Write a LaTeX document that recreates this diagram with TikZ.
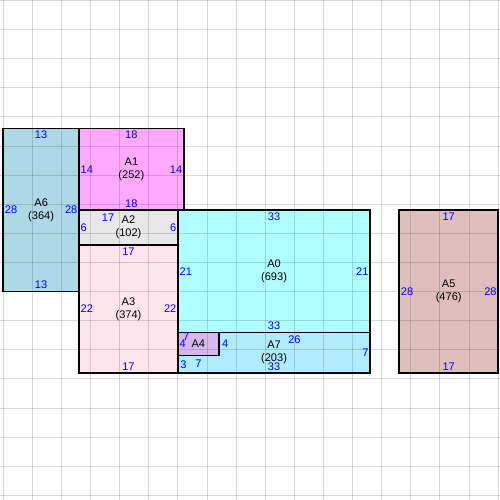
\documentclass[tikz,border=0pt]{standalone}
\usepackage{fontspec}
\setmainfont{Liberation Sans}
\usepackage{tikz}

\definecolor{colAzero}{RGB}{175,255,255}
\definecolor{colAone}{RGB}{255,170,255}
\definecolor{colAtwo}{RGB}{232,232,232}
\definecolor{colAthree}{RGB}{255,228,238}
\definecolor{colAfour}{RGB}{214,184,240}
\definecolor{colAfive}{RGB}{224,190,190}
\definecolor{colAsix}{RGB}{173,216,230}
\definecolor{colAseven}{RGB}{176,236,255}

\tikzset{
  room/.style={draw=black, line width=0.8pt, inner sep=0pt, align=center,
    font=\fontsize{5.4}{6.3}\selectfont},
  num/.style={text=blue, font=\fontsize{5.4}{6.3}\selectfont,
    inner xsep=1pt, inner ysep=1.5pt},
  gridline/.style={draw=black, draw opacity=0.15, line width=0.5pt}
}

\begin{document}
\begin{tikzpicture}[x=1mm, y=-1mm]
      \useasboundingbox (-0.567, -0.086) rectangle (85.31, 85.79);
      % rooms
      \node[room, fill=colAsix, minimum width=13mm, minimum height=28mm] (A6) at (6.5, 36) {A6\\(364)};
      \node[room, fill=colAone, minimum width=18mm, minimum height=14mm] (A1) at (22, 29) {A1\\(252)};
      \node[room, fill=colAtwo, minimum width=17mm, minimum height=6mm] (A2) at (21.5, 39) {A2\\(102)};
      \node[room, fill=colAthree, minimum width=17mm, minimum height=22mm] (A3) at (21.5, 53) {A3\\(374)};
      \node[room, fill=colAzero, minimum width=33mm, minimum height=21mm] (A0) at (46.5, 46.5) {A0\\(693)};
      \node[room, fill=colAseven, minimum width=33mm, minimum height=7mm] (A7) at (46.5, 60.5) {A7\\(203)};
      \node[room, fill=colAfour, minimum width=7mm, minimum height=4mm] (A4) at (33.5, 59) {A4};
      \node[room, fill=colAfive, minimum width=17mm, minimum height=28mm] (A5) at (76.5, 50) {A5\\(476)};
      % grid
      \foreach \k in {0,5,...,85} {
        \draw[gridline] (\k, -0.1) -- (\k, 85.8);
        \draw[gridline] (-0.6, \k) -- (85.4, \k);
      }
      % side lengths
      \node[num, below] (A6t) at (A6.north) {13};
      \node[num, above] (A6b) at (A6.south) {13};
      \node[num, right] (A6l) at (A6.west) {28};
      \node[num, left] (A6r) at (A6.east) {28};
      \node[num, below] (A1t) at (A1.north) {18};
      \node[num, above] (A1b) at (A1.south) {18};
      \node[num, right] (A1l) at (A1.west) {14};
      \node[num, left] (A1r) at (A1.east) {14};
      \node[num, below] (A2t) at (18, 36) {17};
      \node[num, right] (A2l) at (A2.west) {6};
      \node[num, left] (A2r) at (A2.east) {6};
      \node[num, below] (A3t) at (A3.north) {17};
      \node[num, above] (A3b) at (A3.south) {17};
      \node[num, right] (A3l) at (A3.west) {22};
      \node[num, left] (A3r) at (A3.east) {22};
      \node[num, below] (A0t) at (A0.north) {33};
      \node[num, above] (A0b) at (A0.south) {33};
      \node[num, right] (A0l) at (A0.west) {21};
      \node[num, left] (A0r) at (A0.east) {21};
      \node[num] (A4t) at (31.4, 57.8) {7};
      \node[num, right] (A4l) at (A4.west) {4};
      \node[num, below] (A7t) at (50, 57) {26};
      \node[num, above] (A7b) at (A7.south) {33};
      \node[num, left] (A7r) at (A7.east) {7};
      \node[num, right] (A7l) at (30, 62.5) {3};
      \node[num, below] (A7m) at (A4.south) {7};
      \node[num, right] (A7n) at (A4.east) {4};
      \node[num, below] (A5t) at (A5.north) {17};
      \node[num, above] (A5b) at (A5.south) {17};
      \node[num, right] (A5l) at (A5.west) {28};
      \node[num, left] (A5r) at (A5.east) {28};
    \end{tikzpicture}
\end{document}
